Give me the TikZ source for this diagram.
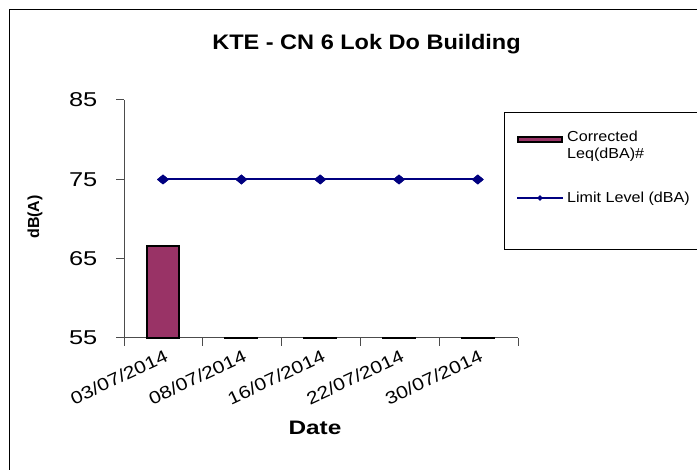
\documentclass[tikz,border=0pt]{standalone}
\usepackage{fontspec}
\setmainfont{Liberation Sans}
\newfontfamily\tickfont[FakeStretch=1.27]{Liberation Sans}
\newfontfamily\datefont[FakeStretch=1.2]{Liberation Sans}
\newfontfamily\titlefont[FakeStretch=1.12]{Liberation Sans}
\newfontfamily\axtfont[FakeStretch=1.25]{Liberation Sans}
\newfontfamily\legfont[FakeStretch=1.11]{Liberation Sans}
\usetikzlibrary{shapes.geometric}
\definecolor{barfill}{RGB}{153,51,102}
\definecolor{linecol}{RGB}{0,0,128}
\begin{document}
\begin{tikzpicture}[x=1pt,y=-1pt,
  axis/.style={draw=black!70,line width=1pt},
  ticklab/.style={font=\tickfont\fontsize{20}{20}\selectfont,anchor=east,inner sep=0pt},
  datelab/.style={font=\datefont\fontsize{17.5}{17.5}\selectfont,anchor=north east,rotate=25,inner sep=0pt},
  bar/.style={draw=black,line width=1.5pt,fill=barfill},
  limline/.style={draw=linecol,line width=2pt},
  mk/.style={fill=linecol,diamond,inner sep=0pt,minimum width=12pt,minimum height=10pt},
  legtext/.style={font=\legfont\fontsize{14.5}{17}\selectfont,anchor=north west,inner sep=0pt,align=left}
]
\useasboundingbox (0,0) rectangle (697,470);
\fill[white] (0,0) rectangle (697,470);
% outer frame (right and bottom lie outside the picture)
\draw[line width=1pt] (9.5,480) -- (9.5,9.5) -- (710,9.5);
% title
\node[font=\titlefont\bfseries\fontsize{21}{21}\selectfont] (title) at (366.5,44) {KTE - CN 6 Lok Do Building};
% axes
\coordinate (o) at (124,338);
\coordinate (ytop) at (124,100);
\coordinate (xend) at (518,338);
\draw[axis] (ytop) -- (o) -- (xend);
% y ticks and labels
\foreach \v/\y in {85/100,75/179.5,65/259,55/338}{
  \draw[axis] (116,\y) -- (124,\y);
  \node[ticklab] (y\v) at (97.5,\y) {\v};
}
% x ticks
\foreach \x in {124,202.8,281.6,360.4,439.2,518}{
  \draw[axis] (\x,338) -- (\x,346);
}
% bars
\draw[bar] (147,338) rectangle (179,246);
\foreach \c in {241.4,320.2,399,477.8}{
  \draw[black,line width=1.5pt] (\c-17,338) -- (\c+17,338);
}
% limit line
\foreach \c/\n in {163/m1,241.4/m2,320.2/m3,399/m4,477.8/m5}{
  \node[mk] (\n) at (\c,179.5) {};
}
\draw[limline] (m1.center) -- (m2.center) -- (m3.center) -- (m4.center) -- (m5.center);
\foreach \n in {m1,m2,m3,m4,m5}{ \node[mk] at (\n) {}; }
% date labels
\foreach \c/\d/\n in {163/03/d1,241.4/08/d2,320.2/16/d3,399/22/d4,477.8/30/d5}{
  \node[datelab] (\n) at (\c+1,349) {\d/07/2014};
}
% axis titles
\node[font=\axtfont\bfseries\fontsize{19.5}{19.5}\selectfont] (xt) at (315,428) {Date};
\node[font=\bfseries\fontsize{16}{16}\selectfont,rotate=90] (yt) at (35,217) {dB(A)};
% legend
\draw[line width=1pt] (710,113) -- (504,113) -- (504,250) -- (710,250);
\draw[bar,line width=1.5pt] (518,137) rectangle (562,142);
\node[legtext] (l1) at (567,131) {Corrected\\Leq(dBA)\#};
\coordinate (la) at (517,198);
\coordinate (lb) at (563,198);
\draw[draw=linecol,line width=1.2pt] (la) -- (lb);
\node[fill=linecol,diamond,inner sep=0pt,minimum size=6pt] (lm) at (540,198) {};
\node[legtext,anchor=west] (l2) at (567,199) {Limit Level (dBA)};
\end{tikzpicture}
\end{document}
